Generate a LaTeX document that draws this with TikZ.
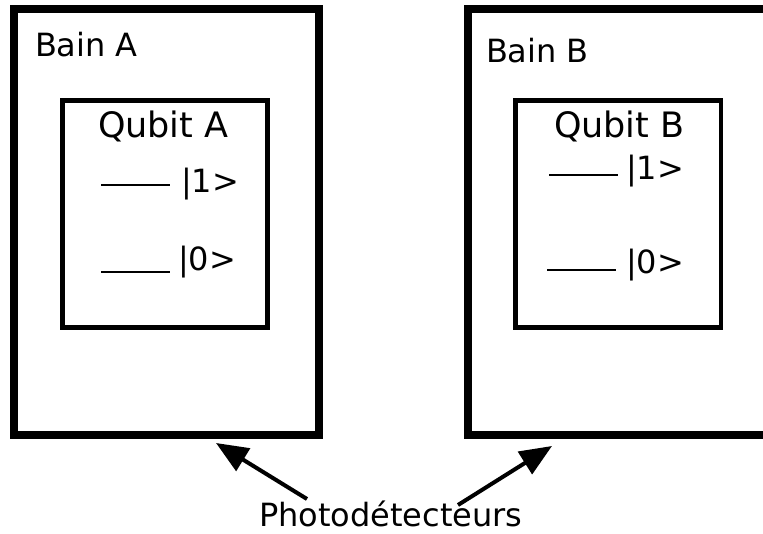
\documentclass[tikz,border=0pt]{standalone}
\usepackage{fontspec}
\setmainfont{DejaVu Sans}
\usetikzlibrary{arrows.meta}
\begin{document}
\begin{tikzpicture}[x=1pt,y=-1pt,
  outerbox/.style={draw=black,line width=8pt,fill=none,inner sep=0pt,outer sep=0pt},
  innerbox/.style={draw=black,line width=4.5pt,fill=none,inner sep=0pt,outer sep=0pt},
  lbl/.style={anchor=base west,inner sep=0pt,outer sep=0pt,font=\fontsize{32pt}{38pt}\selectfont},
  qlbl/.style={anchor=base west,inner sep=0pt,outer sep=0pt,font=\fontsize{35pt}{41pt}\selectfont},
  level/.style={draw=black,line width=1.6pt},
  detarrow/.style={draw=black,line width=4pt,-{Triangle[length=32pt,width=26pt]}}
]
\useasboundingbox (0,0) rectangle (763,534);
\fill[white] (0,0) rectangle (763,534);
\begin{scope}
\clip (0,0) rectangle (763,534);
% outer boxes
\node[outerbox,minimum width=305pt,minimum height=425.5pt] (bainA) at (166,221.75) {};
\node[outerbox,minimum width=312.5pt,minimum height=425.5pt] (bainB) at (623.75,221.75) {};
% inner boxes
\node[innerbox,minimum width=205pt,minimum height=227pt] (qubitA) at (165,214) {};
\node[innerbox,minimum width=205.5pt,minimum height=227pt] (qubitB) at (618.25,214) {};
\end{scope}
% labels
\node[lbl] (tbainA) at (35,57) {Bain A};
\node[lbl] (tbainB) at (486,63) {Bain B};
\node[qlbl] (tqubitA) at (98,138) {Qubit A};
\node[qlbl] (tqubitB) at (554,138) {Qubit B};
\node[lbl] (kA1) at (181,193) {|1>};
\node[lbl] (kA0) at (178,271) {|0>};
\node[lbl] (kB1) at (626,180) {|1>};
\node[lbl] (kB0) at (626,274) {|0>};
\node[lbl] (photo) at (259,526) {Photodétecteurs};
% energy levels
\coordinate (lA1s) at (101,185); \coordinate (lA1e) at (170,185);
\coordinate (lA0s) at (101,272); \coordinate (lA0e) at (170,272);
\coordinate (lB1s) at (549,175); \coordinate (lB1e) at (618,175);
\coordinate (lB0s) at (547,270); \coordinate (lB0e) at (616,270);
\draw[level] (lA1s) -- (lA1e);
\draw[level] (lA0s) -- (lA0e);
\draw[level] (lB1s) -- (lB1e);
\draw[level] (lB0s) -- (lB0e);
% arrows
\coordinate (tailA) at (307,499); \coordinate (tipA) at (216,443);
\coordinate (tailB) at (458,505); \coordinate (tipB) at (552,446);
\draw[detarrow] (tailA) -- (tipA);
\draw[detarrow] (tailB) -- (tipB);
\end{tikzpicture}
\end{document}
